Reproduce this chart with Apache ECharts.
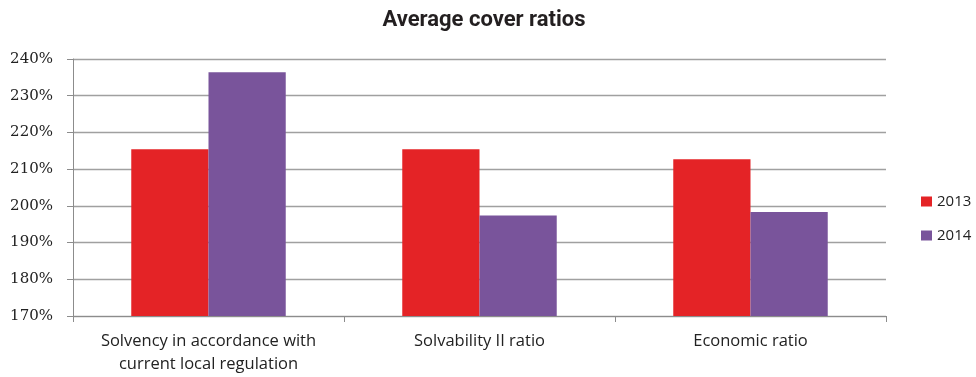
<!DOCTYPE html>
<html>
<head>
<meta charset="utf-8">
<script src="https://cdn.jsdelivr.net/npm/echarts@6/dist/echarts.min.js"></script>
<style>
  html, body { margin: 0; padding: 0; background: #fff; }
  #chart { width: 976px; height: 377px; }
</style>
</head>
<body>
<div id="chart"></div>
<script>
// Average cover ratios, in percent
const categories = [
  'Solvency in accordance with\ncurrent local regulation',
  'Solvability II ratio',
  'Economic ratio'
];
const years = ['2013', '2014'];
const values2013 = [215.4, 215.4, 212.7];
const values2014 = [236.4, 197.4, 198.3];
const yMin = 170, yMax = 240, yStep = 10;

const colors = ['#e42326', '#79549b'];

const chart = echarts.init(document.getElementById('chart'), null, { renderer: 'canvas' });
chart.setOption({
  animation: false,
  backgroundColor: '#ffffff',
  title: {
    text: 'Average cover ratios',
    left: 479, top: 4, textAlign: 'center',
    textStyle: { fontFamily: 'Roboto', fontWeight: 'bold', fontSize: 22, color: '#231f20' }
  },
  legend: {
    orient: 'vertical',
    left: 916, top: 189,
    itemWidth: 11, itemHeight: 10, itemGap: 19,
    icon: 'rect',
    textStyle: { fontFamily: 'Open Sans', fontSize: 15, color: '#222', padding: [0, 0, 0, 0] },
    data: years
  },
  grid: { left: 73, right: 90, top: 59, bottom: 61, containLabel: false },
  xAxis: {
    type: 'category',
    data: categories,
    axisLine: { show: true, lineStyle: { color: '#8c8c8c', width: 1 } },
    axisTick: { show: true, length: 6, lineStyle: { color: '#8c8c8c' } },
    axisLabel: {
      margin: 14, lineHeight: 23,
      fontFamily: 'Open Sans', fontSize: 16.5, color: '#222', interval: 0
    }
  },
  yAxis: {
    type: 'value',
    min: yMin, max: yMax, interval: yStep,
    axisLine: { show: true, lineStyle: { color: '#8c8c8c', width: 1 } },
    axisTick: { show: true, length: 6, lineStyle: { color: '#8c8c8c' } },
    splitLine: { show: true, lineStyle: { color: '#a0a0a0', width: 1.3 } },
    axisLabel: {
      margin: 20,
      fontFamily: 'DejaVu Serif', fontSize: 15, color: '#222',
      formatter: v => v + '%'
    }
  },
  series: [
    {
      name: years[0], type: 'bar', data: values2013,
      itemStyle: { color: colors[0] },
      barGap: '0%', barCategoryGap: '43%'
    },
    {
      name: years[1], type: 'bar', data: values2014,
      itemStyle: { color: colors[1] },
      barGap: '0%', barCategoryGap: '43%'
    }
  ]
});
</script>
</body>
</html>
